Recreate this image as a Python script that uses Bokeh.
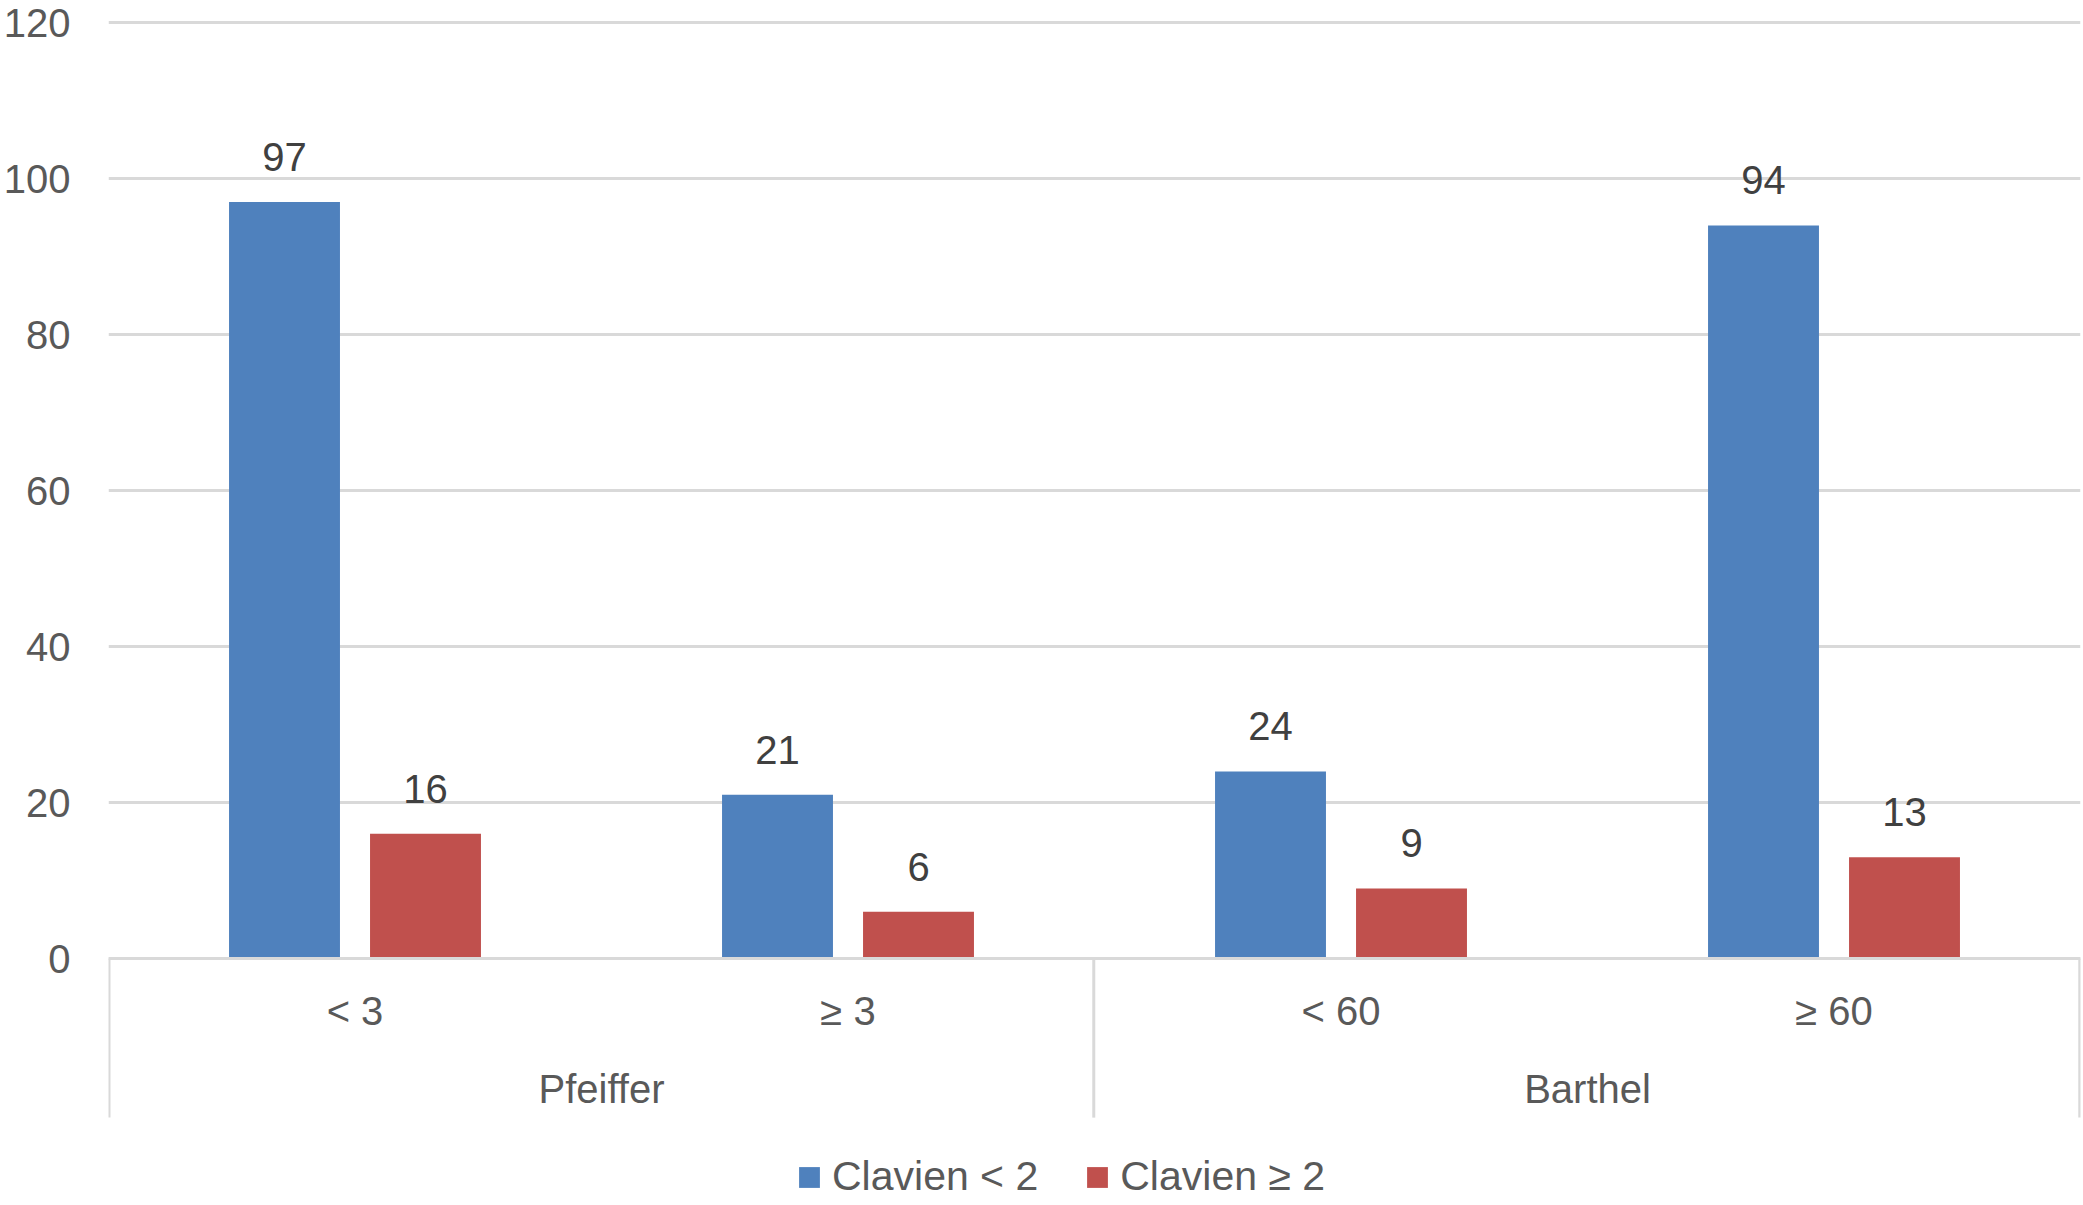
from bokeh.plotting import figure
from bokeh.models import (FactorRange, Range1d, ColumnDataSource, FixedTicker,
                          Legend, LegendItem)
from bokeh.transform import dodge
from bokeh.core.properties import value, field
from bokeh.embed import file_html
from bokeh.resources import INLINE

# ---- data ----
groups = ["Pfeiffer", "Pfeiffer", "Barthel", "Barthel"]
subgroups = ["< 3", "≥ 3", "< 60", "≥ 60"]
clavien_lt2 = [97, 21, 24, 94]
clavien_ge2 = [16, 6, 9, 13]
series_names = ["Clavien < 2", "Clavien ≥ 2"]
y_ticks = [0, 20, 40, 60, 80, 100, 120]

# ---- styles ----
BLUE = "#4F81BD"
RED = "#C0504D"
GRID = "#D9D9D9"
AXIS_TEXT = "#595959"
LABEL_TEXT = "#404040"
FONT = "Liberation Sans"
FS = "40px"
PX_PER_UNIT = 7.8
Y_TOP = 120.4
TOP_BORDER = 19
CANVAS_H = 1205
FRAME_H = CANVAS_H - TOP_BORDER
Y_BOTTOM = Y_TOP - FRAME_H / PX_PER_UNIT
AXIS_DEPTH = 159 / PX_PER_UNIT

factors = list(zip(groups, subgroups))
group_names = list(dict.fromkeys(groups))
group_ends = [f for i, f in enumerate(factors)
              if i == len(factors) - 1 or groups[i + 1] != groups[i]]

src = ColumnDataSource(dict(
    x=factors,
    a=clavien_lt2,
    b=clavien_ge2,
    al=[str(v) for v in clavien_lt2],
    bl=[str(v) for v in clavien_ge2],
))

xr = FactorRange(*factors, range_padding=0, group_padding=0,
                 subgroup_padding=0, factor_padding=0)
p = figure(x_range=xr, y_range=Range1d(Y_BOTTOM, Y_TOP),
           frame_width=1972, frame_height=FRAME_H,
           output_backend="svg", toolbar_location=None,
           min_border_left=108, min_border_right=3, min_border_top=TOP_BORDER,
           min_border_bottom=0)

p.outline_line_color = None
p.background_fill_color = "white"
p.border_fill_color = "white"

# y axis
p.yaxis.ticker = FixedTicker(ticks=y_ticks)
p.ygrid.ticker = FixedTicker(ticks=y_ticks)
p.yaxis.axis_line_color = None
p.yaxis.major_tick_line_color = None
p.yaxis.minor_tick_line_color = None
p.yaxis.major_tick_out = 0
p.yaxis.major_label_standoff = 38
p.yaxis.major_label_text_font = FONT
p.yaxis.major_label_text_font_size = FS
p.yaxis.major_label_text_color = AXIS_TEXT
p.ygrid.grid_line_color = GRID
p.ygrid.grid_line_width = 3
p.xgrid.grid_line_color = None

# x axis (category axis sitting on y = 0)
xa = p.xaxis[0]
xa.fixed_location = 0
xa.axis_line_color = GRID
xa.axis_line_width = 3
xa.major_tick_line_color = None
xa.major_tick_out = 29
xa.major_tick_in = 0
xa.major_label_text_font = FONT
xa.major_label_text_font_size = FS
xa.major_label_text_color = AXIS_TEXT
xa.major_label_standoff = 1
xa.group_text_color = None
xa.separator_line_color = None

# group labels (centred on each group of the factor range)
p.text(x=group_names, y=[0] * len(group_names), text=group_names,
       y_offset=130, text_align="center", text_baseline="middle",
       text_font=value(FONT), text_font_size=FS, text_color=AXIS_TEXT)

# vertical lines of the category axis: left edge and the end of every group
edge_l = ColumnDataSource(dict(x=[factors[0]], y0=[0], y1=[-AXIS_DEPTH]))
edge_g = ColumnDataSource(dict(x=group_ends, y0=[0] * len(group_ends),
                               y1=[-AXIS_DEPTH] * len(group_ends)))
p.segment(x0=dodge("x", -0.499, range=xr), x1=dodge("x", -0.499, range=xr),
          y0="y0", y1="y1", source=edge_l, line_color=GRID, line_width=3)
p.segment(x0=dodge("x", 0.4985, range=xr), x1=dodge("x", 0.4985, range=xr),
          y0="y0", y1="y1", source=edge_g, line_color=GRID, line_width=3)

off = 0.143
bw = 0.225
r1 = p.vbar(x=dodge("x", -off, range=xr), top="a", width=bw,
            source=src, fill_color=BLUE, line_color=None)
r2 = p.vbar(x=dodge("x", off, range=xr), top="b", width=bw,
            source=src, fill_color=RED, line_color=None)

for col, lab, o in (("a", "al", -off), ("b", "bl", off)):
    p.text(x=dodge("x", o, range=xr), y=field(col), text=field(lab),
           source=src,
           text_align="center", text_baseline="alphabetic", y_offset=-45,
           text_font=value(FONT), text_font_size=FS, text_color=LABEL_TEXT)

legend = Legend(items=[LegendItem(label=series_names[0], renderers=[r1]),
                       LegendItem(label=series_names[1], renderers=[r2])],
                orientation="horizontal", location=(688, 5),
                glyph_width=26, glyph_height=26, label_standoff=10, spacing=46,
                padding=0, margin=0, border_line_color=None,
                background_fill_alpha=0,
                label_text_font=FONT, label_text_font_size="41px",
                label_text_color=AXIS_TEXT)
p.add_layout(legend, "center")

open("out.html", "w").write(file_html(p, INLINE))
